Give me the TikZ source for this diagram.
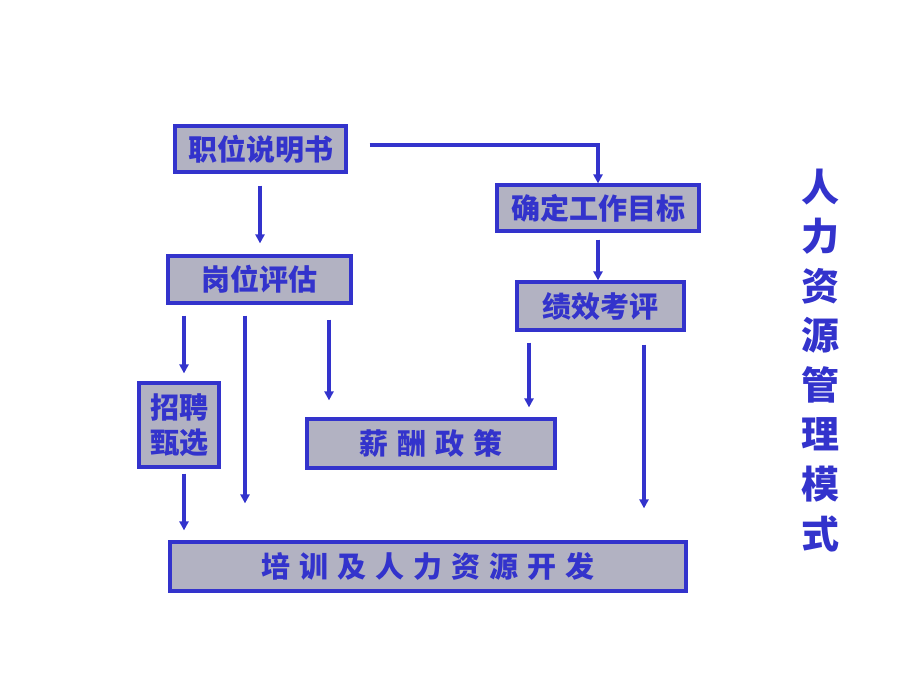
\documentclass[tikz,border=0pt]{standalone}
\usepackage{fontspec}
\newfontfamily\cjk{Noto Sans CJK SC}
\usetikzlibrary{arrows.meta}
\definecolor{hrblue}{RGB}{51,51,204}
\definecolor{hrgrey}{RGB}{178,178,194}
\newcommand\gap{\hspace{9pt}}
\tikzset{
  box/.style={draw=hrblue, fill=hrgrey, line width=3.2pt, text=hrblue,
    font=\cjk\bfseries\fontsize{29}{31}\selectfont, inner sep=0pt},
  flow/.style={draw=hrblue, line width=3.2pt, -{Triangle[length=9pt,width=9pt]}},
  title/.style={text=hrblue, font=\cjk\bfseries\fontsize{38}{40}\selectfont, inner sep=0pt}
}
\begin{document}
\begin{tikzpicture}[x=1pt,y=-1pt]
\useasboundingbox (0,0) rectangle (920,690);
% boxes
\node[box, minimum width=171pt, minimum height=46pt] (zw) at (260.5,149) {职位说明书};
\node[box, minimum width=202pt, minimum height=46pt] (qd) at (598,208) {确定工作目标};
\node[box, minimum width=183pt, minimum height=47pt] (gw) at (259.5,279.5) {岗位评估};
\node[box, minimum width=167pt, minimum height=48pt] (jx) at (600.5,306) {绩效考评};
\node[box, minimum width=80pt, minimum height=84pt, align=center,
  font=\cjk\bfseries\fontsize{29}{35}\selectfont] (zp) at (179,425) {招聘\\甄选};
\node[box, minimum width=248pt, minimum height=49pt] (xc) at (431,443.5) {薪\gap 酬\gap 政\gap 策};
\node[box, minimum width=516pt, minimum height=49pt] (px) at (428,566.5) {培\gap 训\gap 及\gap 人\gap 力\gap 资\gap 源\gap 开\gap 发};
% title
\foreach \c [count=\i from 0] in {人,力,资,源,管,理,模,式}
  \node[title] (t\i) at (820,{187+49.5*\i}) {\c};
% arrows
\draw[flow, shorten <=22pt] ([yshift=4pt]zw.east) -| (qd.north);
\draw[flow, shorten <=12pt, shorten >=11pt] (zw.south -| 260,0) -- (gw.north -| 260,0);
\draw[flow, shorten <=7pt] (qd.south) -- (qd.south |- jx.north);
\draw[flow, shorten <=11pt, shorten >=8pt] (gw.south -| 184,0) -- (zp.north -| 184,0);
\draw[flow, shorten <=11pt, shorten >=37pt] (gw.south -| 245,0) -- (px.north -| 245,0);
\draw[flow, shorten <=15pt, shorten >=17pt] (gw.south -| 329,0) -- (xc.north -| 329,0);
\draw[flow, shorten <=11pt, shorten >=10pt] (jx.south -| 529,0) -- (xc.north -| 529,0);
\draw[flow, shorten <=13pt, shorten >=32pt] (jx.south -| 644,0) -- (px.north -| 644,0);
\draw[flow, shorten <=5pt, shorten >=10pt] (zp.south -| 184,0) -- (px.north -| 184,0);
\end{tikzpicture}
\end{document}
